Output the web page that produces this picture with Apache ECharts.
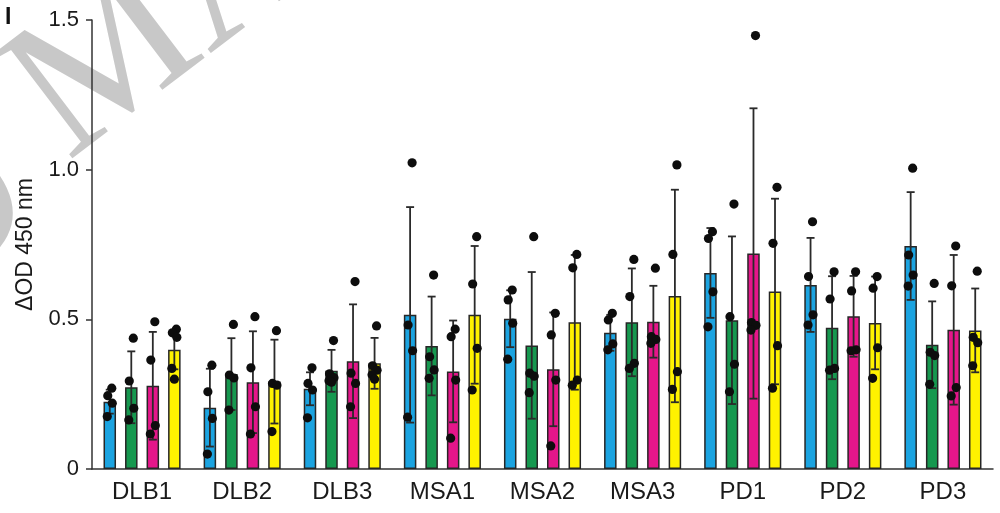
<!DOCTYPE html>
<html>
<head>
<meta charset="utf-8">
<script src="https://cdn.jsdelivr.net/npm/echarts@6/dist/echarts.min.js"></script>
<style>
  html, body { margin: 0; padding: 0; background: #fff; }
  #chart { width: 1000px; height: 513px; }
</style>
</head>
<body>
<div id="chart"></div>
<script>
// ---- data ----
const categories = ['DLB1', 'DLB2', 'DLB3', 'MSA1', 'MSA2', 'MSA3', 'PD1', 'PD2', 'PD3'];
const yTicks = [0, 0.5, 1.0, 1.5];

const blueMean    = [0.225, 0.205, 0.268, 0.515, 0.502, 0.455, 0.655, 0.615, 0.745];
const greenMean   = [0.273, 0.317, 0.328, 0.411, 0.413, 0.490, 0.497, 0.472, 0.415];
const magentaMean = [0.278, 0.290, 0.360, 0.326, 0.333, 0.492, 0.720, 0.510, 0.465];
const yellowMean  = [0.398, 0.292, 0.353, 0.515, 0.490, 0.578, 0.593, 0.488, 0.463];

const blueSD    = [0.040, 0.130, 0.055, 0.360, 0.095, 0.060, 0.150, 0.157, 0.180];
const greenSD   = [0.120, 0.120, 0.070, 0.165, 0.245, 0.180, 0.280, 0.172, 0.145];
const magentaSD = [0.180, 0.170, 0.190, 0.170, 0.190, 0.120, 0.485, 0.135, 0.250];
const yellowSD  = [0.065, 0.140, 0.085, 0.230, 0.225, 0.355, 0.310, 0.155, 0.140];

const bluePoints = [
  [0.270, 0.245, 0.220, 0.175],
  [0.347, 0.258, 0.169, 0.050],
  [0.338, 0.286, 0.264, 0.171],
  [1.023, 0.481, 0.395, 0.173],
  [0.598, 0.565, 0.487, 0.367],
  [0.520, 0.498, 0.418, 0.398],
  [0.793, 0.770, 0.592, 0.475],
  [0.826, 0.643, 0.515, 0.481],
  [1.005, 0.715, 0.648, 0.611]
];
const greenPoints = [
  [0.437, 0.294, 0.203, 0.164],
  [0.483, 0.314, 0.304, 0.197],
  [0.429, 0.318, 0.305, 0.295, 0.290],
  [0.648, 0.375, 0.331, 0.303],
  [0.776, 0.320, 0.310, 0.255],
  [0.700, 0.576, 0.353, 0.336],
  [0.885, 0.509, 0.350, 0.258],
  [0.659, 0.568, 0.336, 0.330],
  [0.620, 0.390, 0.379, 0.283]
];
const magentaPoints = [
  [0.492, 0.364, 0.145, 0.117],
  [0.509, 0.338, 0.208, 0.117],
  [0.626, 0.320, 0.286, 0.208],
  [0.467, 0.442, 0.297, 0.103],
  [0.520, 0.448, 0.297, 0.077],
  [0.671, 0.442, 0.433, 0.420],
  [1.448, 0.489, 0.480, 0.464],
  [0.659, 0.595, 0.398, 0.395],
  [0.745, 0.612, 0.272, 0.244]
];
const yellowPoints = [
  [0.467, 0.455, 0.440, 0.336, 0.300],
  [0.462, 0.286, 0.280, 0.125],
  [0.478, 0.345, 0.330, 0.315, 0.300],
  [0.776, 0.618, 0.403, 0.264],
  [0.717, 0.672, 0.297, 0.280],
  [1.016, 0.717, 0.325, 0.266],
  [0.941, 0.754, 0.412, 0.270],
  [0.643, 0.604, 0.405, 0.303],
  [0.661, 0.440, 0.422, 0.345]
];

// ---- styling ----
const FONT = '"Liberation Sans", Arial, sans-serif';
const SERIF = '"Liberation Serif", "Times New Roman", serif';
const colors = ['#1ba3e0', '#16984f', '#e5168a', '#fff200'];
const BAR_W = 0.125;     // fraction of category band
const BAR_GAP = 0.72;    // fraction of bar width
const jitter = [2, -2, 2.5, -2.5, 0];

const groups = [
  { mean: blueMean, sd: blueSD, pts: bluePoints },
  { mean: greenMean, sd: greenSD, pts: greenPoints },
  { mean: magentaMean, sd: magentaSD, pts: magentaPoints },
  { mean: yellowMean, sd: yellowSD, pts: yellowPoints }
];

function offsetFor(i, api) {
  const band = api.size([1, 0])[0];
  return (i - 1.5) * band * BAR_W * (1 + BAR_GAP);
}

const series = [];
groups.forEach((g, i) => {
  series.push({
    type: 'bar',
    data: g.mean,
    barWidth: (BAR_W * 100) + '%',
    barGap: (BAR_GAP * 100) + '%',
    itemStyle: { color: colors[i], borderColor: '#262626', borderWidth: 1.5 },
    z: 2,
    silent: true
  });
});
groups.forEach((g, i) => {
  series.push({
    type: 'custom',
    data: g.mean.map((m, c) => [c, m, g.sd[c]]),
    z: 3,
    silent: true,
    renderItem: function (params, api) {
      const c = api.value(0), m = api.value(1), s = api.value(2);
      const off = offsetFor(i, api);
      const top = api.coord([c, m + s]);
      const bot = api.coord([c, Math.max(0, m - s)]);
      const x = top[0] + off;
      const cw = 4;
      const st = { stroke: '#2a2a2a', lineWidth: 1.8 };
      return {
        type: 'group',
        children: [
          { type: 'line', shape: { x1: x, y1: top[1], x2: x, y2: bot[1] }, style: st },
          { type: 'line', shape: { x1: x - cw, y1: top[1], x2: x + cw, y2: top[1] }, style: st },
          { type: 'line', shape: { x1: x - cw, y1: bot[1], x2: x + cw, y2: bot[1] }, style: st }
        ]
      };
    }
  });
});
groups.forEach((g, i) => {
  const d = [];
  g.pts.forEach((arr, c) => arr.forEach((v, j) => d.push([c, v, j])));
  series.push({
    type: 'custom',
    data: d,
    z: 4,
    silent: true,
    renderItem: function (params, api) {
      const c = api.value(0), v = api.value(1), j = api.value(2);
      const p = api.coord([c, v]);
      return {
        type: 'circle',
        shape: { cx: p[0] + offsetFor(i, api) + jitter[j % jitter.length], cy: p[1], r: 4.6 },
        style: { fill: '#0d0d0d' }
      };
    }
  });
});

const chart = echarts.init(document.getElementById('chart'), null, { renderer: 'canvas' });
chart.setOption({
  animation: false,
  backgroundColor: '#fff',
  textStyle: { fontFamily: FONT },
  graphic: [
    {
      type: 'text', x: -48, y: 218, rotation: 0.65, z: -10, silent: true,
      style: { text: 'O', font: '200px ' + SERIF, fill: '#c8c8c8', verticalAlign: 'middle', align: 'center' }
    },
    {
      type: 'text', x: 36, y: 120, rotation: 0.65, z: -10, silent: true,
      style: { text: 'MA', font: '200px ' + SERIF, fill: '#c8c8c8', verticalAlign: 'middle', align: 'left' }
    },
    {
      type: 'text', left: 5, top: 6, z: 10,
      style: { text: 'I', font: 'bold 23px ' + FONT, fill: '#111' }
    }
  ],
  grid: { left: 92, right: 7, top: 20, bottom: 44, containLabel: false },
  xAxis: {
    type: 'category',
    data: categories,
    axisLine: { lineStyle: { color: '#333', width: 1.5 } },
    axisTick: { alignWithLabel: true, length: 6, lineStyle: { color: '#333', width: 1.5 } },
    axisLabel: { fontSize: 24, color: '#1a1a1a', margin: 11, fontFamily: FONT }
  },
  yAxis: {
    type: 'value',
    min: 0, max: 1.5, interval: 0.5,
    name: 'ΔOD 450 nm',
    nameLocation: 'middle',
    nameGap: 55,
    nameTextStyle: { fontSize: 23, color: '#1a1a1a', fontFamily: FONT },
    axisLine: { show: true, lineStyle: { color: '#333', width: 1.5 } },
    axisTick: { show: true, length: 6, lineStyle: { color: '#333', width: 1.5 } },
    splitLine: { show: false },
    axisLabel: {
      fontSize: 22, color: '#1a1a1a', margin: 13, fontFamily: FONT,
      formatter: function (v) { return yTicks.indexOf(v) >= 0 ? (v === 0 ? '0' : v.toFixed(1)) : ''; }
    }
  },
  series: series
});
</script>
</body>
</html>
